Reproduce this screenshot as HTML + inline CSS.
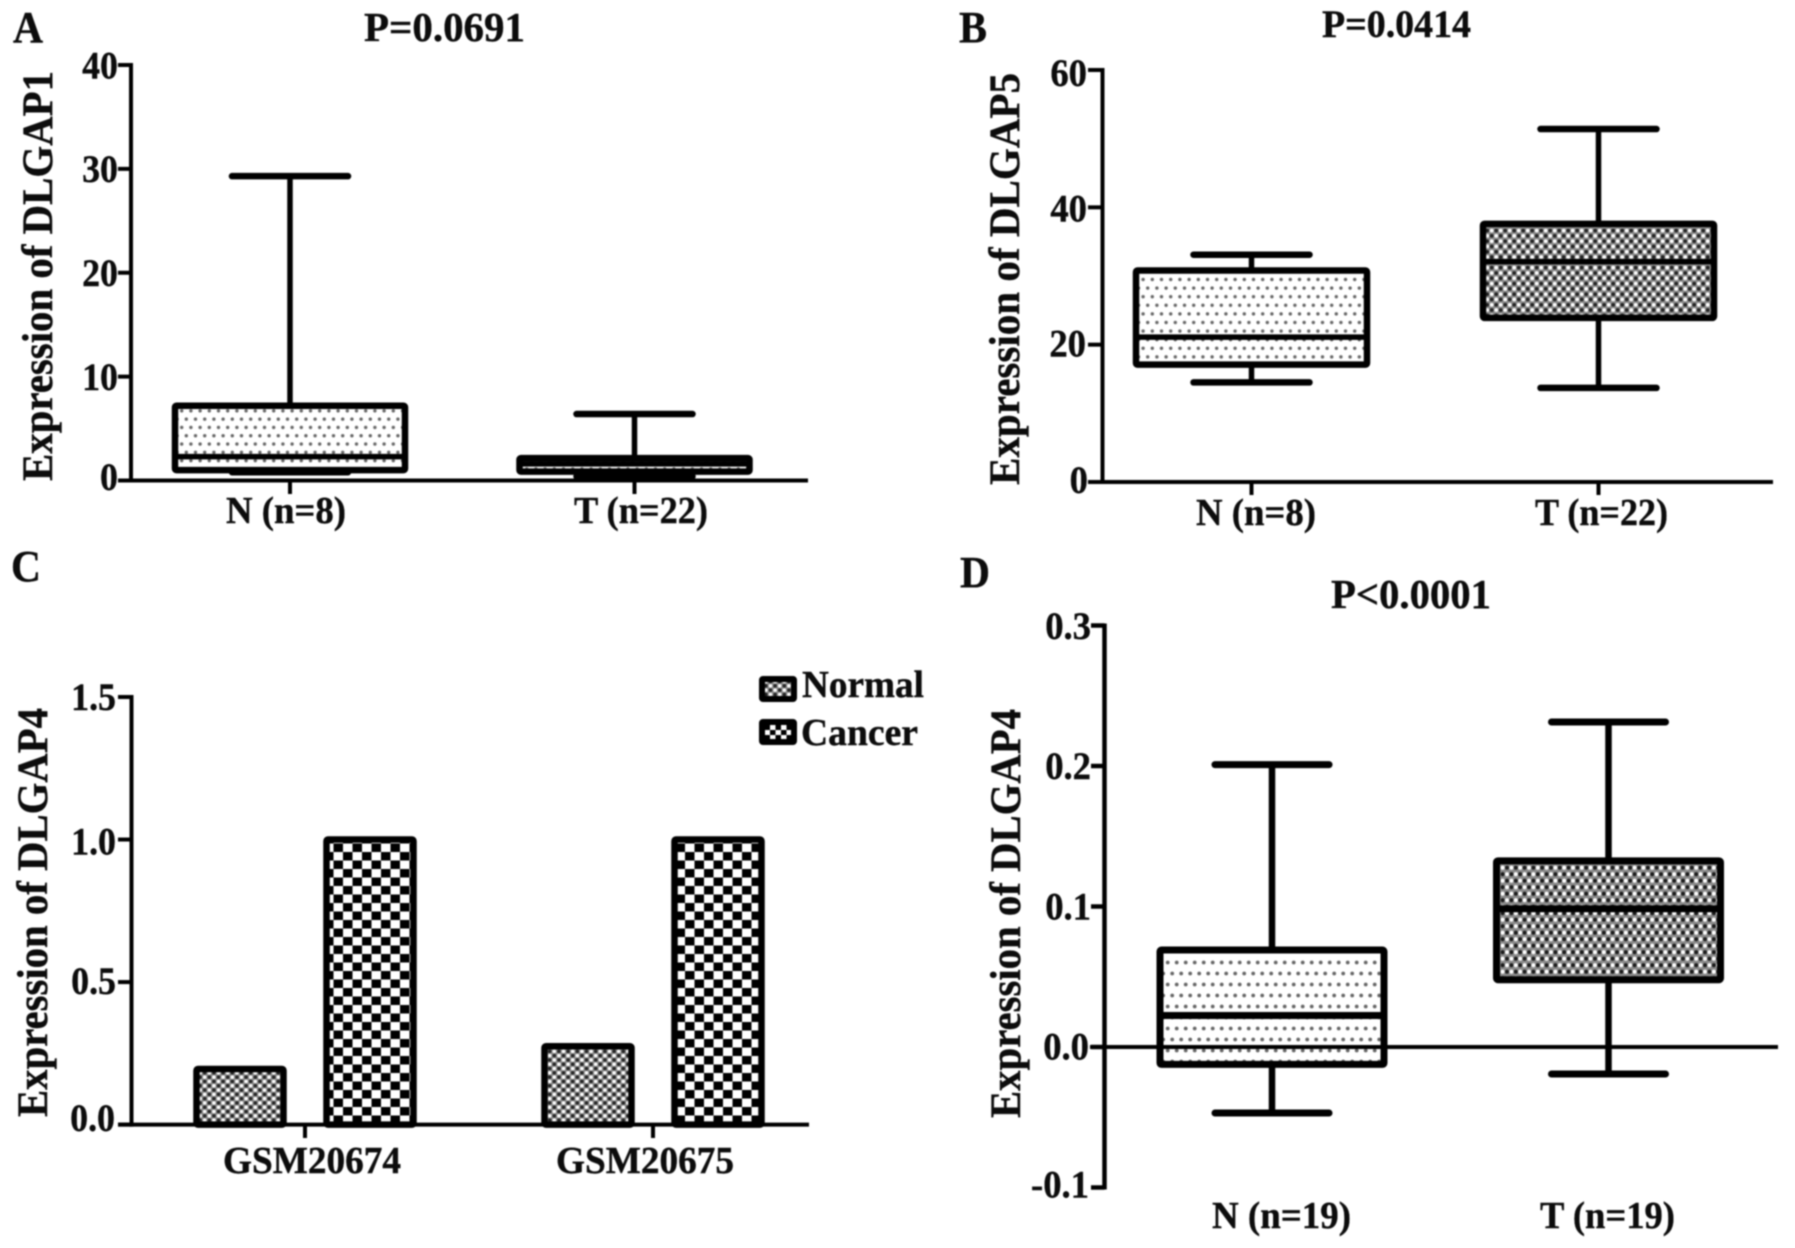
<!DOCTYPE html>
<html lang="en">
<head>
<meta charset="utf-8">
<title>DLGAP expression panels</title>
<style>
html,body{margin:0;padding:0;background:#fff;width:1795px;height:1248px;overflow:hidden}
svg{display:block;filter:blur(0.9px)}
text{font-family:"Liberation Serif","Times New Roman",serif;font-weight:bold;fill:#0c0c0c;stroke:#0c0c0c;stroke-width:0.4px}
</style>
</head>
<body>
<svg id="figure" xmlns="http://www.w3.org/2000/svg" width="1795" height="1248" viewBox="0 0 1795 1248">
<defs>
<pattern id="dots-a" patternUnits="userSpaceOnUse" width="9.2" height="16.6"><circle cx="2.3" cy="4.1" r="1.7" fill="#666"/><circle cx="6.9" cy="12.4" r="1.7" fill="#666"/></pattern>
<pattern id="dots-b" patternUnits="userSpaceOnUse" width="9.2" height="17.2"><circle cx="2.3" cy="4.3" r="1.7" fill="#666"/><circle cx="6.9" cy="12.9" r="1.7" fill="#666"/></pattern>
<pattern id="dots-d" patternUnits="userSpaceOnUse" width="9" height="22"><circle cx="2.2" cy="5.5" r="1.9" fill="#666"/><circle cx="6.7" cy="16.5" r="1.9" fill="#666"/></pattern>
<pattern id="hatch-b" patternUnits="userSpaceOnUse" width="9" height="10.6"><rect width="9" height="10.6" fill="#8a8a8a"/><circle cx="2.2" cy="2.6" r="1.9" fill="#fff"/><circle cx="6.7" cy="8" r="1.9" fill="#fff"/><circle cx="6.7" cy="2.6" r="1.9" fill="#222"/><circle cx="2.2" cy="8" r="1.9" fill="#222"/></pattern>
<pattern id="hatch-c" patternUnits="userSpaceOnUse" width="9.2" height="8.6"><rect width="9.2" height="8.6" fill="#8a8a8a"/><circle cx="2.3" cy="2.1" r="1.8" fill="#fff"/><circle cx="6.9" cy="6.4" r="1.8" fill="#fff"/><circle cx="6.9" cy="2.1" r="1.8" fill="#222"/><circle cx="2.3" cy="6.4" r="1.8" fill="#222"/></pattern>
<pattern id="hatch-d" patternUnits="userSpaceOnUse" width="8.8" height="13"><rect width="8.8" height="13" fill="#8a8a8a"/><circle cx="2.2" cy="3.2" r="2.1" fill="#fff"/><circle cx="6.6" cy="9.7" r="2.1" fill="#fff"/><circle cx="6.6" cy="3.2" r="2.1" fill="#1a1a1a"/><circle cx="2.2" cy="9.7" r="2.1" fill="#1a1a1a"/></pattern>
<pattern id="checker" patternUnits="userSpaceOnUse" width="19" height="17" x="1" y="2"><rect width="19" height="17" fill="#fff"/><rect x="0" y="0" width="9.5" height="8.5" fill="#000"/><rect x="9.5" y="8.5" width="9.5" height="8.5" fill="#000"/></pattern>
<pattern id="checker-small" patternUnits="userSpaceOnUse" width="11" height="10"><rect width="11" height="10" fill="#fff"/><rect width="5.5" height="5" fill="#000"/><rect x="5.5" y="5" width="5.5" height="5" fill="#000"/></pattern>
</defs>

<rect width="1795" height="1248" fill="#fff"/>

<g id="panel-a">
<text x="13" y="42" font-size="44" textLength="30" lengthAdjust="spacingAndGlyphs">A</text>
<text x="364" y="41" font-size="41" textLength="161" lengthAdjust="spacingAndGlyphs">P=0.0691</text>
<text transform="translate(52,481) rotate(-90)" font-size="43" textLength="410" lengthAdjust="spacingAndGlyphs">Expression of DLGAP1</text>
</g>

<g id="panel-b">
<text x="959" y="42" font-size="44" textLength="28" lengthAdjust="spacingAndGlyphs">B</text>
<text x="1322" y="37" font-size="39" textLength="149" lengthAdjust="spacingAndGlyphs">P=0.0414</text>
<text transform="translate(1019,485) rotate(-90)" font-size="43" textLength="412" lengthAdjust="spacingAndGlyphs">Expression of DLGAP5</text>
</g>

<g id="panel-c">
<text x="11" y="581" font-size="44" textLength="30" lengthAdjust="spacingAndGlyphs">C</text>
<text transform="translate(47,1117) rotate(-90)" font-size="43" textLength="409" lengthAdjust="spacingAndGlyphs">Expression of DLGAP4</text>
<rect x="762" y="679" width="32" height="20" rx="1" fill="url(#hatch-c)" stroke="#000" stroke-width="6"/>
<text x="802" y="697" font-size="38" textLength="122" lengthAdjust="spacingAndGlyphs">Normal</text>
<rect x="762" y="722" width="32" height="20" rx="1" fill="url(#checker-small)" stroke="#000" stroke-width="6"/>
<text x="801" y="745" font-size="38" textLength="117" lengthAdjust="spacingAndGlyphs">Cancer</text>
</g>

<g id="panel-d">
<text x="960" y="587" font-size="44" textLength="30" lengthAdjust="spacingAndGlyphs">D</text>
<text x="1331" y="608" font-size="41" textLength="160" lengthAdjust="spacingAndGlyphs">P&lt;0.0001</text>
<text transform="translate(1020,1118) rotate(-90)" font-size="43" textLength="409" lengthAdjust="spacingAndGlyphs">Expression of DLGAP4</text>
</g>
</svg>

<script>
// Panel A data
const aCategories = ['N (n=8)', 'T (n=22)'];
const aMax = [29.3, 6.4];
const aQ3 = [7.2, 2.15];
const aMedian = [2.3, 1.6];
const aQ1 = [1.0, 0.85];
const aMin = [0.8, 0.38];
const aTicks = [0, 10, 20, 30, 40];
const aTickLabels = ['0', '10', '20', '30', '40'];

// Panel B data
const bCategories = ['N (n=8)', 'T (n=22)'];
const bMax = [33.1, 51.4];
const bQ3 = [30.8, 37.6];
const bMedian = [21.1, 32.1];
const bQ1 = [17.1, 23.9];
const bMin = [14.5, 13.7];
const bTicks = [0, 20, 40, 60];
const bTickLabels = ['0', '20', '40', '60'];

// Panel C data
const cGroups = ['GSM20674', 'GSM20675'];
const cNormal = [0.195, 0.275];
const cCancer = [1.0, 1.0];
const cTicks = [0, 0.5, 1.0, 1.5];
const cTickLabels = ['0.0', '0.5', '1.0', '1.5'];

// Panel D data
const dCategories = ['N (n=19)', 'T (n=19)'];
const dMax = [0.201, 0.2313];
const dQ3 = [0.069, 0.1325];
const dMedian = [0.0224, 0.0984];
const dQ1 = [-0.0124, 0.0479];
const dMin = [-0.047, -0.0192];
const dTicks = [-0.1, 0, 0.1, 0.2, 0.3];
const dTickLabels = ['-0.1', '0.0', '0.1', '0.2', '0.3'];

const SVG_NS = 'http://www.w3.org/2000/svg';

function linearScale(d0, d1, r0, r1) {
  return function (v) { return r0 + (v - d0) * (r1 - r0) / (d1 - d0); };
}

function makeLine(parent, name, x1, y1, x2, y2, width) {
  const el = document.createElementNS(SVG_NS, 'line');
  
  
  el.setAttribute('x1', x1);
  el.setAttribute('y1', y1);
  el.setAttribute('x2', x2);
  el.setAttribute('y2', y2);
  el.setAttribute('stroke', '#000');
  el.setAttribute('stroke-width', width);
  parent.appendChild(el);
  return el;
}

function makeRect(parent, name, x, y, w, h, fill, strokeWidth) {
  const el = document.createElementNS(SVG_NS, 'rect');
  
  
  el.setAttribute('x', x);
  el.setAttribute('y', y);
  el.setAttribute('width', w);
  el.setAttribute('height', Math.max(0, h));
  el.setAttribute('rx', 1.5);
  el.setAttribute('fill', fill);
  el.setAttribute('stroke', '#000');
  el.setAttribute('stroke-width', strokeWidth);
  parent.appendChild(el);
  return el;
}

function makeTickLabel(parent, name, label, rightX, baseline, size, squeeze) {
  const el = document.createElementNS(SVG_NS, 'text');
  
  
  el.setAttribute('transform', 'translate(' + rightX + ',' + baseline + ') scale(' + squeeze + ',1)');
  el.setAttribute('text-anchor', 'end');
  el.setAttribute('font-size', size);
  el.textContent = label;
  parent.appendChild(el);
  return el;
}

function makeCategoryLabel(parent, name, label, leftX, baseline, size, length) {
  const el = document.createElementNS(SVG_NS, 'text');
  
  
  el.setAttribute('x', leftX);
  el.setAttribute('y', baseline);
  el.setAttribute('font-size', size);
  el.setAttribute('textLength', length);
  el.setAttribute('lengthAdjust', 'spacingAndGlyphs');
  el.textContent = label;
  parent.appendChild(el);
  return el;
}

function drawYAxis(parent, prefix, L, y, ticks, labels) {
  makeLine(parent, prefix + '-y-axis-line', L.axisX, y(ticks[ticks.length - 1]) - 2, L.axisX, y(ticks[0]) + 2, L.axisWidth);
  ticks.forEach(function (t, i) {
    makeLine(parent, prefix + '-y-tick-' + labels[i], L.tickLeft, y(t), L.axisX, y(t), L.tickWidth);
    makeTickLabel(parent, prefix + '-y-tick-label-' + labels[i], labels[i], L.labelRight[i], y(t) + L.labelDy[i], L.tickFont, L.squeeze);
  });
}

function drawBoxPanel(id, prefix, L, y, series, ticks, tickLabels, categories) {
  const g = document.getElementById(id);
  categories.forEach(function (cat, i) {
    const cx = L.centers[i];
    const top = y(series.q3[i]);
    const bot = y(series.q1[i]);
    const mark = prefix + '-box-' + i;
    makeLine(g, mark + '-upper-whisker', cx, y(series.max[i]), cx, top, L.stem);
    makeLine(g, mark + '-lower-whisker', cx, bot, cx, y(series.min[i]), L.stem);
    makeLine(g, mark + '-upper-cap', cx - L.capHalf, y(series.max[i]), cx + L.capHalf, y(series.max[i]), L.capWidth).setAttribute('stroke-linecap', 'round');
    makeLine(g, mark + '-lower-cap', cx - L.capHalf, y(series.min[i]), cx + L.capHalf, y(series.min[i]), L.capWidth).setAttribute('stroke-linecap', 'round');
    makeRect(g, mark + '-body', cx - L.boxHalf, top, L.boxHalf * 2, bot - top, L.fills[i], L.boxStroke);
    makeLine(g, mark + '-median', cx - L.boxHalf, y(series.median[i]), cx + L.boxHalf, y(series.median[i]), L.medianWidth);
    makeCategoryLabel(g, prefix + '-x-label-' + i, cat, L.catLeft[i], L.catBaseline, L.catFont, L.catLength[i]);
  });
  makeLine(g, prefix + '-x-axis-line', L.xStart, y(L.xAxisAt), L.xEnd, y(L.xAxisAt), L.xAxisWidth);
  if (L.showXTicks) {
    L.centers.forEach(function (cx, i) {
      makeLine(g, prefix + '-x-tick-' + i, cx, y(L.xAxisAt), cx, L.xTickBottom, L.tickWidth);
    });
  }
  drawYAxis(g, prefix, L, y, ticks, tickLabels);
}

// Panel A
drawBoxPanel('panel-a', 'panel-a', {
  axisX: 131, axisWidth: 4, tickLeft: 118, tickWidth: 4, tickFont: 39, squeeze: 0.92,
  labelRight: [118, 118, 118, 118, 118], labelDy: [9.5, 13.5, 13, 13, 13.5],
  centers: [290, 634.5], boxHalf: 115, capHalf: 58, stem: 5.5, capWidth: 6.5, boxStroke: 6.5, medianWidth: 5.5,
  fills: ['url(#dots-a)', 'url(#dots-a)'],
  xStart: 118, xEnd: 808, xAxisAt: 0, xAxisWidth: 4, showXTicks: true, xTickBottom: 494,
  catLeft: [226, 574], catBaseline: 523, catFont: 38, catLength: [120, 134]
}, linearScale(0, 40, 480.5, 65),
  { max: aMax, q3: aQ3, median: aMedian, q1: aQ1, min: aMin }, aTicks, aTickLabels, aCategories);

// Panel B
drawBoxPanel('panel-b', 'panel-b', {
  axisX: 1102.5, axisWidth: 4, tickLeft: 1088, tickWidth: 4, tickFont: 39, squeeze: 0.94,
  labelRight: [1088, 1086, 1087, 1087], labelDy: [11, 12, 14, 16],
  centers: [1251.5, 1598.5], boxHalf: 115.5, capHalf: 58, stem: 5.5, capWidth: 6.5, boxStroke: 6.5, medianWidth: 5.5,
  fills: ['url(#dots-b)', 'url(#hatch-b)'],
  xStart: 1088, xEnd: 1773, xAxisAt: 0, xAxisWidth: 4, showXTicks: true, xTickBottom: 495,
  catLeft: [1196, 1535], catBaseline: 525, catFont: 38, catLength: [120, 133]
}, linearScale(0, 60, 482, 70),
  { max: bMax, q3: bQ3, median: bMedian, q1: bQ1, min: bMin }, bTicks, bTickLabels, bCategories);

// Panel D
drawBoxPanel('panel-d', 'panel-d', {
  axisX: 1104.5, axisWidth: 4.5, tickLeft: 1091, tickWidth: 4.5, tickFont: 39, squeeze: 0.94,
  labelRight: [1089, 1089, 1091, 1091, 1091], labelDy: [10, 12.5, 13, 13, 13.5],
  centers: [1272, 1608.5], boxHalf: 112, capHalf: 57, stem: 6.5, capWidth: 7, boxStroke: 7, medianWidth: 7,
  fills: ['url(#dots-d)', 'url(#hatch-d)'],
  xStart: 1090, xEnd: 1778, xAxisAt: 0, xAxisWidth: 4, showXTicks: false, xTickBottom: 0,
  catLeft: [1212, 1540], catBaseline: 1228, catFont: 38, catLength: [139, 135]
}, linearScale(-0.1, 0.3, 1187.5, 625.5),
  { max: dMax, q3: dQ3, median: dMedian, q1: dQ1, min: dMin }, dTicks, dTickLabels, dCategories);

// Panel C
(function () {
  const g = document.getElementById('panel-c');
  const y = linearScale(0, 1.5, 1124.6, 697);
  const L = {
    axisX: 131.5, axisWidth: 4, tickLeft: 118, tickWidth: 4, tickFont: 39, squeeze: 0.92,
    labelRight: [115, 116, 116, 116], labelDy: [6.5, 12, 15, 13]
  };
  const groupCenters = [305, 653];
  const groupOffset = 65;
  const barHalf = 43.5;
  const groupLeft = [223, 556];
  cGroups.forEach(function (name, i) {
    const nx = groupCenters[i] - groupOffset - barHalf;
    const cx = groupCenters[i] + groupOffset - barHalf;
    makeRect(g, 'panel-c-bar-normal-' + name, nx, y(cNormal[i]), barHalf * 2, y(0) - y(cNormal[i]), 'url(#hatch-c)', 6.5);
    makeRect(g, 'panel-c-bar-cancer-' + name, cx, y(cCancer[i]), barHalf * 2, y(0) - y(cCancer[i]), 'url(#checker)', 6.5);
    makeLine(g, 'panel-c-x-tick-' + name, groupCenters[i], y(0), groupCenters[i], 1138, 4);
    makeCategoryLabel(g, 'panel-c-x-label-' + name, name, groupLeft[i], 1173, 38, 178);
  });
  makeLine(g, 'panel-c-x-axis-line', 118, y(0), 809, y(0), 4);
  drawYAxis(g, 'panel-c', L, y, cTicks, cTickLabels);
})();
</script>
</body>
</html>
